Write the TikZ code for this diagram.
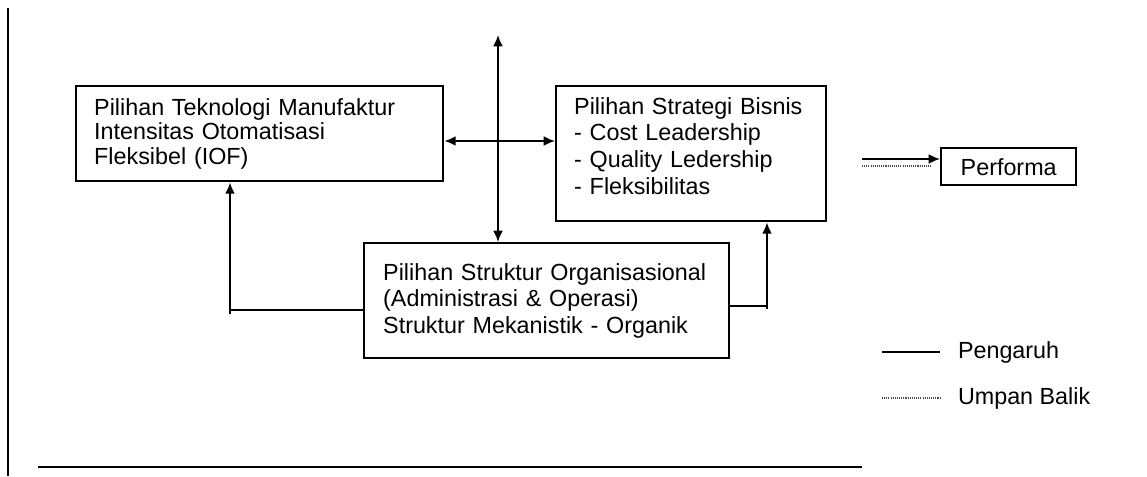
\documentclass[tikz,border=0pt]{standalone}
\usepackage{fontspec}
\setmainfont{Liberation Sans}
\usetikzlibrary{arrows.meta}

\begin{document}
\begin{tikzpicture}[x=0.75pt,y=-0.75pt,line width=1.5pt,
    kotak/.style={draw,line width=1.8pt,anchor=north west,align=left,
      inner xsep=13.5pt,inner ysep=0pt,font=\fontsize{17.5}{20}\selectfont},
    panah/.style={-{Latex[length=8.5pt,width=7.5pt]}},
    duapanah/.style={{Latex[length=8.5pt,width=7.5pt]}-{Latex[length=8.5pt,width=7.5pt]}},
    titik/.style={line width=1pt,dash pattern=on 0.8pt off 0.8pt,black!70},
    ket/.style={anchor=west,inner sep=0pt,font=\fontsize{17.5}{20}\selectfont}]
  \useasboundingbox (0,0) rectangle (1147,476);
  \node[kotak,text width=248.25pt,minimum height=71.25pt,
    font=\fontsize{17.5}{18.5}\selectfont] (tek) at (75,85)
    {Pilihan Teknologi Manufaktur\\Intensitas Otomatisasi\\Fleksibel (IOF)};
  \node[kotak,text width=175.5pt,minimum height=101.25pt] (strat) at (555,85)
    {Pilihan Strategi Bisnis\\- Cost Leadership\\- Quality Ledership\\- Fleksibilitas\\[-8pt]\mbox{}};
  \node[kotak,text width=245.25pt,minimum height=86.25pt,inner xsep=14.25pt] (struk) at (363,242)
    {Pilihan Struktur Organisasional\\(Administrasi \& Operasi)\\Struktur Mekanistik - Organik};
  \node[kotak,align=center,inner xsep=0pt,minimum width=101.25pt,minimum height=27.75pt] (perf) at (940,147)
    {Performa};
  \coordinate (atas) at (498,35);
  \coordinate (tengah) at (498,141);
  \coordinate (kiri) at (230,310);
  \coordinate (kanan) at (767,306);
  \coordinate (masuk) at (862,159);
  \coordinate (balik) at (862,166);
  \draw[duapanah] (atas) -- (atas |- struk.north);
  \draw[duapanah] (tengah -| tek.east) -- (tengah -| strat.west);
  \draw[panah] (kiri -| struk.west) -- (kiri) -- (kiri |- tek.south);
  \draw (kiri) -- ++(0,4);
  \draw[panah] (kanan -| struk.east) -- (kanan) -- (kanan |- strat.south);
  \draw (kanan) -- ++(0,3);
  \draw[panah] (masuk) -- (masuk -| perf.west);
  \draw[titik] (balik) -- ++(70,0);
  \coordinate (lg1) at (882,352);
  \coordinate (lg2) at (882,398);
  \draw (lg1) -- ++(58,0);
  \draw[titik] (lg2) -- ++(58,0);
  \node[ket] (pengaruh) at (957,352) {Pengaruh};
  \node[ket] (umpan) at (957,398) {Umpan Balik};
  \draw (8,8) -- (8,476);
  \draw[line width=2.2pt] (38,467) -- (862,467);
\end{tikzpicture}
\end{document}
